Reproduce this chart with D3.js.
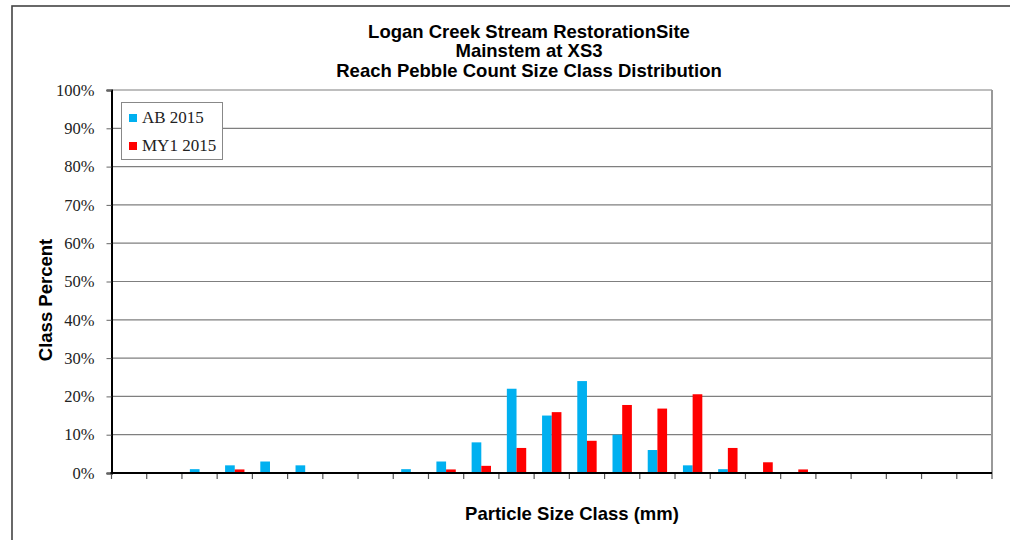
<!DOCTYPE html>
<html>
<head>
<meta charset="utf-8">
<script src="https://cdn.jsdelivr.net/npm/d3@7"></script>
<style>
  html, body { margin: 0; padding: 0; background: #fff; }
  svg { display: block; }
</style>
</head>
<body>
<svg id="chart" width="1010" height="540"></svg>
<script>
// Particle size classes (upper bound, mm) for the reach pebble count
const sizeClasses = [
  "0.062", "0.125", "0.25", "0.5", "1", "2", "4", "5.7", "8", "11", "16",
  "22.6", "32", "45", "64", "90", "128", "180", "256", "362", "512",
  "1024", "2048", "4096", "Bedrock"
];

// Class percent per size class
const ab2015 = [
  0, 0, 1, 2, 3, 2, 0, 0, 1, 3, 8, 22, 15, 24, 10, 6, 2, 1, 0, 0, 0, 0, 0, 0, 0
];
const my12015 = [
  0, 0, 0, 0.93, 0, 0, 0, 0, 0, 0.93, 1.87, 6.54, 15.89, 8.41, 17.76, 16.82,
  20.56, 6.54, 2.80, 0.93, 0, 0, 0, 0, 0
];

const seriesNames = ["AB 2015", "MY1 2015"];
const seriesColors = ["#00b0f0", "#ff0000"];
const yTicks = [0, 10, 20, 30, 40, 50, 60, 70, 80, 90, 100];

const svg = d3.select("#chart");
const plot = { left: 111.5, top: 90, right: 992, bottom: 473 };
const sans = "'Liberation Sans', Arial, sans-serif";
const serif = "'Liberation Serif', 'Times New Roman', serif";

// Outer chart frame
svg.append("rect")
  .attr("x", 12).attr("y", 6)
  .attr("width", 1100).attr("height", 600)
  .attr("fill", "#fff")
  .attr("stroke", "#444").attr("stroke-width", 1.6);

const x = d3.scaleBand()
  .domain(sizeClasses)
  .range([plot.left, plot.right])
  .paddingInner(0.45)
  .paddingOuter(0.225);

const xStep = (plot.right - plot.left) / sizeClasses.length;

const xSub = d3.scaleBand()
  .domain(seriesNames)
  .range([0, x.bandwidth()]);

const y = d3.scaleLinear().domain([0, 100]).range([plot.bottom, plot.top]);

// Horizontal gridlines
svg.append("g")
  .selectAll("line")
  .data(yTicks.filter(d => d > 0))
  .join("line")
  .attr("x1", plot.left).attr("x2", plot.right)
  .attr("y1", d => y(d)).attr("y2", d => y(d))
  .attr("stroke", "#7f7f7f").attr("stroke-width", 1.2);

// Right border of the plot area
svg.append("line")
  .attr("x1", plot.right).attr("x2", plot.right)
  .attr("y1", plot.top).attr("y2", plot.bottom)
  .attr("stroke", "#999").attr("stroke-width", 2);

// Bars
const series = [ab2015, my12015];
series.forEach((vals, si) => {
  svg.append("g")
    .selectAll("rect")
    .data(vals.map((v, i) => ({ cls: sizeClasses[i], v })).filter(d => d.v > 0))
    .join("rect")
    .attr("x", d => x(d.cls) + xSub(seriesNames[si]))
    .attr("width", xSub.bandwidth())
    .attr("y", d => y(d.v))
    .attr("height", d => y(0) - y(d.v))
    .attr("fill", seriesColors[si]);
});

// Y axis
const yAxis = d3.axisLeft(y)
  .tickValues(yTicks)
  .tickFormat(d => d + "%")
  .tickSize(5)
  .tickPadding(12);
const gy = svg.append("g")
  .attr("transform", `translate(${plot.left},0)`)
  .call(yAxis);
gy.select(".domain").attr("stroke", "#000").attr("stroke-width", 2);
gy.selectAll(".tick line").attr("stroke", "#666");
gy.selectAll(".tick text")
  .attr("font-family", serif)
  .attr("font-size", 16.5).attr("fill", "#222");

// X axis: tick marks at category boundaries, no labels
const boundaries = d3.range(sizeClasses.length + 1).map(i => plot.left + i * xStep);
svg.append("g")
  .selectAll("line")
  .data(boundaries)
  .join("line")
  .attr("x1", d => d).attr("x2", d => d)
  .attr("y1", plot.bottom).attr("y2", plot.bottom + 6)
  .attr("stroke", "#555").attr("stroke-width", 1.2);
svg.append("line")
  .attr("x1", plot.left - 1).attr("x2", plot.right)
  .attr("y1", plot.bottom).attr("y2", plot.bottom)
  .attr("stroke", "#000").attr("stroke-width", 2);

// Title
const titleLines = [
  "Logan Creek Stream RestorationSite",
  "Mainstem at XS3",
  "Reach Pebble Count Size Class Distribution"
];
svg.append("text")
  .attr("font-family", sans)
  .attr("font-weight", "bold").attr("font-size", 18.5)
  .attr("text-anchor", "middle").attr("fill", "#000")
  .selectAll("tspan")
  .data(titleLines)
  .join("tspan")
  .attr("x", 529)
  .attr("y", (d, i) => 37.5 + i * 19.5)
  .text(d => d);

// Axis titles
svg.append("text")
  .attr("transform", "translate(52,300) rotate(-90)")
  .attr("text-anchor", "middle")
  .attr("font-family", sans)
  .attr("font-weight", "bold").attr("font-size", 18.5)
  .text("Class Percent");

svg.append("text")
  .attr("x", 572).attr("y", 519.5)
  .attr("text-anchor", "middle")
  .attr("font-family", sans)
  .attr("font-weight", "bold").attr("font-size", 18.5)
  .text("Particle Size Class (mm)");

// Legend
const legend = svg.append("g");
legend.append("rect")
  .attr("x", 121.5).attr("y", 102.5)
  .attr("width", 101).attr("height", 57)
  .attr("fill", "#fff").attr("stroke", "#888").attr("stroke-width", 1);
const items = legend.selectAll("g.item")
  .data(seriesNames)
  .join("g").attr("class", "item")
  .attr("transform", (d, i) => `translate(129,${114 + i * 28})`);
items.append("rect")
  .attr("width", 8).attr("height", 8)
  .attr("fill", (d, i) => seriesColors[i]);
items.append("text")
  .attr("x", 13).attr("y", 9)
  .attr("font-family", serif)
  .attr("font-size", 17).attr("fill", "#222")
  .text(d => d);
</script>
</body>
</html>
